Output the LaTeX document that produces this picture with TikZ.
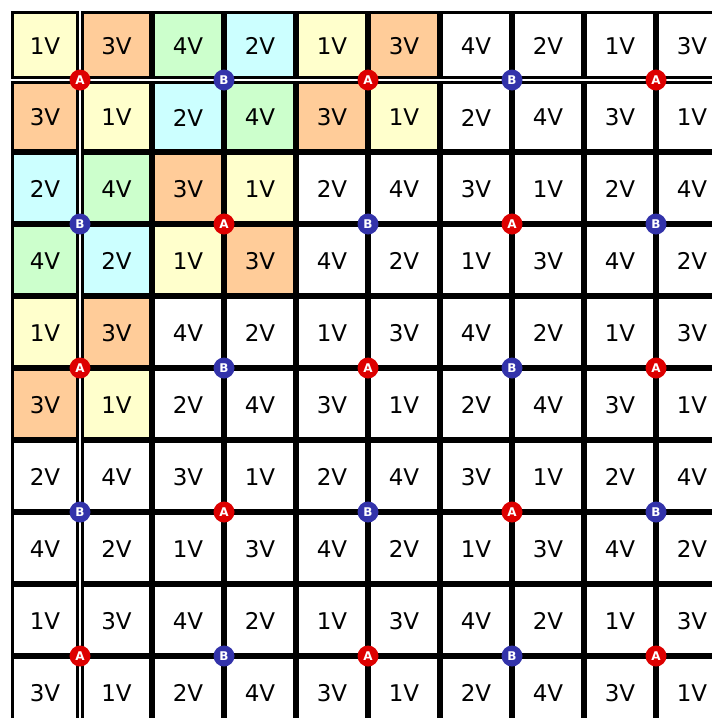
\documentclass[tikz,border=0pt]{standalone}
\usepackage{fontspec}
\setsansfont{DejaVu Sans}
\usepackage{tikz}

% цвета клеток по напряжению
\definecolor{volt1}{HTML}{FFFFCC}
\definecolor{volt2}{HTML}{CCFFFF}
\definecolor{volt3}{HTML}{FFCC99}
\definecolor{volt4}{HTML}{CCFFCC}
% цвета меток A и B
\definecolor{redA}{HTML}{DD0000}
\definecolor{blueB}{HTML}{3333AA}

\tikzset{
  cellbox/.style={draw=black, line width=3pt},
  celltext/.style={font=\sffamily\fontsize{23}{23}\selectfont, inner sep=0pt},
  crossdot/.style={circle, minimum size=21pt, inner sep=0pt, text=white,
    font=\sffamily\bfseries\fontsize{12}{12}\selectfont}
}

\begin{document}
\begin{tikzpicture}[x=1pt, y=-1pt]
      % Рамка картинки
      \useasboundingbox (0,0) rectangle (712,718);
      \clip (0,0) rectangle (712,718);
      
      % Клетки: строки значений (в вольтах)
      \foreach \vals [count=\rw] in {
        {1,3,4,2,1,3,4,2,1,3},{3,1,2,4,3,1,2,4,3,1},
        {2,4,3,1,2,4,3,1,2,4},{4,2,1,3,4,2,1,3,4,2},
        {1,3,4,2,1,3,4,2,1,3},{3,1,2,4,3,1,2,4,3,1},
        {2,4,3,1,2,4,3,1,2,4},{4,2,1,3,4,2,1,3,4,2},
        {1,3,4,2,1,3,4,2,1,3},{3,1,2,4,3,1,2,4,3,1}}{
        \pgfmathsetmacro{\ya}{\rw==1 ? 11 : (\rw==2 ? 81 : 152+72*(\rw-3))}
        \pgfmathsetmacro{\yb}{\rw==1 ? 79 : 152+72*(\rw-2)}
        % сколько клеток в строке закрашено
        \pgfmathtruncatemacro{\climit}{8-2*int((\rw+1)/2)}
        \foreach \v [count=\cl] in \vals {
          \pgfmathsetmacro{\xa}{\cl==1 ? 11 : (\cl==2 ? 81 : 152+72*(\cl-3))}
          \pgfmathsetmacro{\xb}{\cl==1 ? 79 : 152+72*(\cl-2)}
          \ifnum\cl>\climit \def\fc{white}\else \edef\fc{volt\v}\fi
          \filldraw[cellbox, fill=\fc] (\xa+1.5,\ya+1.5) rectangle (\xb-1.5,\yb-1.5);
          \node[celltext] (t-\rw-\cl) at ({(\xa+\xb)/2},{(\ya+\yb)/2+1}) {\v V};
        }
      }
      
      % Метки A и B на пересечениях
      \foreach \a in {0,...,4}{
        \foreach \b in {0,...,4}{
          \pgfmathtruncatemacro{\kind}{mod(\a+\b,2)}
          \ifnum\kind=0 \def\mc{redA}\def\ml{A}\else \def\mc{blueB}\def\ml{B}\fi
          \node[crossdot, fill=\mc] (m-\a-\b) at (80+144*\a, 80+144*\b) {\raisebox{-2pt}{\ml}};
        }
      }
      
\end{tikzpicture}
\end{document}
